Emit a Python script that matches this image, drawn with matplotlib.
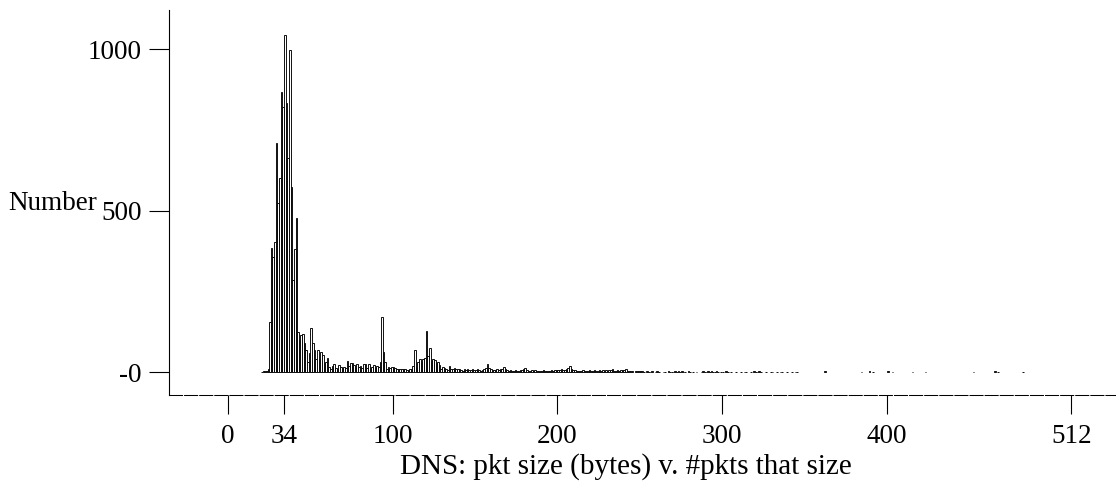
import numpy as np
from matplotlib import pyplot as plt

# packet sizes 20..145, one count per byte
sizes_a = list(range(20, 146))
counts_a = [1, 2, 3, 4, 8, 156, 383, 355, 403, 708,
	523, 600, 868, 820, 1043, 832, 662, 997, 574, 285,
	380, 477, 125, 99, 115, 117, 90, 68, 32, 60,
	135, 89, 68, 42, 68, 40, 63, 53, 27, 30,
	44, 16, 11, 20, 25, 14, 10, 22, 16, 14,
	16, 12, 34, 20, 27, 29, 22, 12, 25, 16,
	18, 12, 25, 25, 14, 25, 10, 16, 22, 12,
	20, 15, 30, 171, 63, 32, 11, 16, 12, 16,
	16, 12, 9, 9, 11, 8, 9, 9, 6, 6,
	8, 11, 20, 68, 16, 30, 42, 30, 42, 45,
	128, 50, 75, 35, 42, 37, 28, 32, 22, 11,
	16, 13, 11, 6, 18, 8, 8, 14, 8, 8,
	9, 6, 3, 8, 5, 11]

# 146..250
sizes_b = list(range(146, 251))
counts_b = [7, 5, 9, 6, 5, 8, 6, 4, 7, 9,
	14, 24, 12, 9, 6, 7, 5, 8, 6, 9,
	11, 16, 8, 5, 4, 6, 4, 3, 5, 4,
	3, 5, 6, 9, 13, 6, 4, 3, 5, 4,
	6, 3, 2, 4, 3, 5, 3, 4, 2, 3,
	5, 4, 6, 7, 5, 6, 8, 5, 7, 9,
	12, 18, 8, 5, 6, 3, 2, 4, 3, 5,
	2, 4, 3, 5, 4, 3, 6, 4, 3, 5,
	4, 6, 3, 5, 4, 6, 5, 8, 4, 3,
	5, 4, 6, 5, 7, 11, 4, 2, 3, 2,
	0, 3, 2, 2, 3]

# 251..345, sparse small counts
sizes_c = list(range(251, 346))
counts_c = [2, 1, 0, 2, 1, 1, 2, 0, 1, 2,
	1, 0, 0, 1, 1, 0, 2, 1, 1, 1,
	2, 1, 3, 1, 2, 1, 1, 0, 2, 1,
	0, 1, 0, 1, 0, 0, 1, 2, 1, 1,
	2, 1, 2, 1, 1, 2, 1, 0, 1, 1,
	0, 2, 1, 0, 1, 0, 0, 1, 0, 0,
	1, 0, 1, 1, 0, 0, 1, 0, 2, 1,
	1, 2, 1, 0, 0, 1, 0, 0, 1, 1,
	0, 0, 1, 0, 1, 1, 0, 0, 1, 0,
	0, 1, 0, 1, 1]

# isolated sizes further out
sizes_d = [362, 384, 389, 391, 400, 403, 415, 423, 452, 465, 467, 482]
counts_d = [4, 1, 2, 1, 2, 1, 1, 1, 1, 2, 1, 1]

xticks = [0, 34, 100, 200, 300, 400, 512]
yticks = [0, 500, 1000]
ytick_labels = ['-0', '500', '1000']

sizes = np.array(sizes_a + sizes_b + sizes_c + sizes_d)
counts = np.array(counts_a + counts_b + counts_c + counts_d)
keep = counts > 0

plt.rcParams['font.family'] = ['Liberation Serif', 'DejaVu Serif']
fs = 19.5

W, H = 1118, 488
fig = plt.figure(figsize=(W / 100, H / 100), dpi=100)
ax = fig.add_axes([169 / W, 1 - 395 / H, (1115 - 169) / W, (395 - 10) / H])

ax.bar(sizes[keep], counts[keep], width=1, align='edge',
	facecolor='white', edgecolor='black', linewidth=0.65)

ax.set_xlim(-35.8, 538.5)
ax.set_ylim(-71, 1121)

ax.spines['top'].set_visible(False)
ax.spines['right'].set_visible(False)
ax.spines['left'].set_linewidth(0.8)
ax.spines['bottom'].set_linewidth(0.75)
ax.spines['bottom'].set_linestyle((0, (12.5, 2)))

ax.set_xticks(xticks)
ax.set_xticklabels([str(t) for t in xticks])
ax.set_yticks(yticks)
ax.set_yticklabels(ytick_labels)
ax.tick_params(axis='x', direction='out', length=14, width=0.8, pad=7, labelsize=fs)
ax.tick_params(axis='y', direction='out', length=14.5, width=0.8, pad=5, labelsize=fs)

fig.text(8 / W, 1 - 204 / H, 'Number', fontsize=fs, ha='left', va='center')
fig.text(626 / W, 1 - 467 / H, 'DNS: pkt size (bytes) v. #pkts that size',
	fontsize=21, ha='center', va='center')

fig.savefig('out.png', dpi=100)
